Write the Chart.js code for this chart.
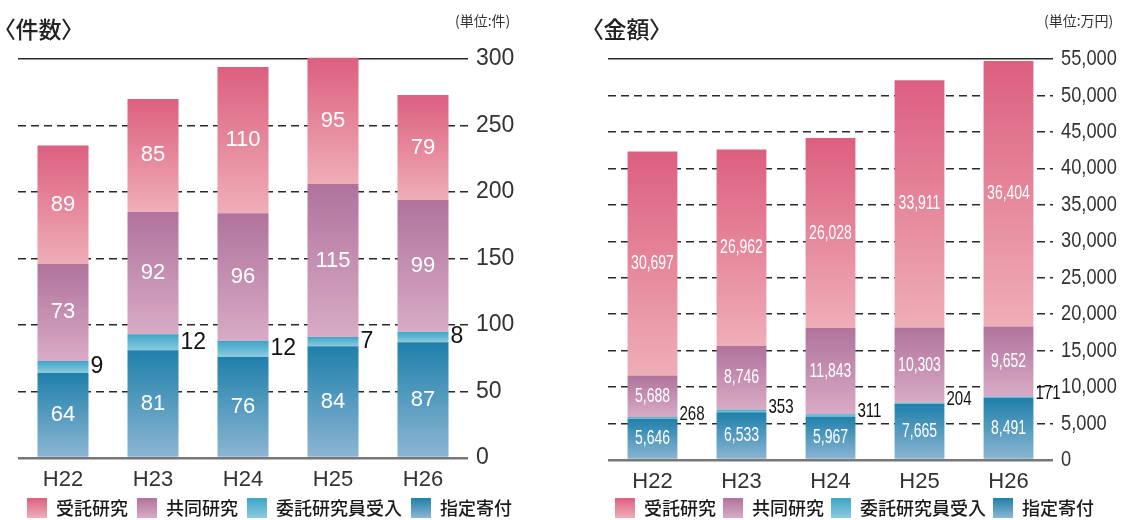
<!DOCTYPE html>
<html lang="ja">
<head>
<meta charset="utf-8">
<title>件数・金額</title>
<style>
  html, body { margin: 0; padding: 0; background: #fff; }
  #wrap { position: relative; width: 1126px; height: 520px; overflow: hidden; }
  .box { position: absolute; top: 0; height: 520px; }
  canvas { display: block; }
  .ttl { position: absolute; font-family: "Noto Sans CJK JP"; font-size: 23px; font-weight: 500; color: #222; font-feature-settings: "palt"; white-space: nowrap; line-height: 1; }
  .unit { position: absolute; font-family: "Noto Sans CJK JP"; font-size: 14px; color: #333; white-space: nowrap; line-height: 1; }
</style>
</head>
<body>
<div id="wrap">
  <div class="box" style="left:0;width:540px"><canvas id="cnt" width="540" height="520"></canvas></div>
  <div class="box" style="left:580px;width:546px"><canvas id="amt" width="546" height="520"></canvas></div>
  <div class="ttl" style="left:4px;top:17px">〈件数〉</div>
  <div class="unit" style="left:455px;top:13px">(単位:件)</div>
  <div class="ttl" style="left:592px;top:17px">〈金額〉</div>
  <div class="unit" style="left:1044px;top:13px">(単位:万円)</div>
</div>

<script src="https://cdn.jsdelivr.net/npm/chart.js"></script>
<script>
  // categories & series (bottom of stack first)
  const years = ['H22', 'H23', 'H24', 'H25', 'H26'];
  const seriesNames = ['指定寄付', '委託研究員受入', '共同研究', '受託研究'];

  // 件数
  const countDonation = [64, 81, 76, 84, 87];
  const countTrainee  = [9, 12, 12, 7, 8];
  const countJoint    = [73, 92, 96, 115, 99];
  const countContract = [89, 85, 110, 95, 79];

  // 金額 (万円)
  const amountDonation = [5646, 6533, 5967, 7665, 8491];
  const amountTrainee  = [268, 353, 311, 204, 171];
  const amountJoint    = [5688, 8746, 11843, 10303, 9652];
  const amountContract = [30697, 26962, 26028, 33911, 36404];

  // top -> bottom colour of each segment
  const palette = [
    ['#1f80ab', '#8db6d3'],
    ['#3ca6c7', '#8ccadf'],
    ['#b0739d', '#d8abc5'],
    ['#dc5f7f', '#efaeb7']
  ];

  function fillFor(i) {
    return function (c) {
      if (c.type !== 'data' || !c.chart.chartArea) return palette[i][0];
      const ds = c.chart.data.datasets;
      let base = 0;
      for (let k = 0; k < i; k++) base += ds[k].data[c.dataIndex];
      const top = base + ds[i].data[c.dataIndex];
      const y = c.chart.scales.y;
      const g = c.chart.ctx.createLinearGradient(0, y.getPixelForValue(top), 0, y.getPixelForValue(base));
      g.addColorStop(0, palette[i][0]);
      g.addColorStop(1, palette[i][1]);
      return g;
    };
  }

  const fmt = v => v.toLocaleString('en-US');

  // text squeezed horizontally (the amounts chart uses a condensed face)
  function drawText(ctx, txt, x, y, font, color, align, sx) {
    ctx.save();
    ctx.font = font;
    ctx.fillStyle = color;
    ctx.textAlign = align;
    ctx.textBaseline = 'middle';
    ctx.translate(x, y);
    ctx.scale(sx, 1);
    ctx.fillText(txt, 0, 0);
    ctx.restore();
  }

  const valueLabels = {
    id: 'valueLabels',
    afterDatasetsDraw(chart, args, opts) {
      const ctx = chart.ctx;
      chart.data.datasets.forEach((ds, i) => {
        chart.getDatasetMeta(i).data.forEach((bar, j) => {
          const txt = fmt(ds.data[j]);
          const cy = (bar.y + bar.base) / 2;
          if (ds.outside) {
            drawText(ctx, txt, bar.x + bar.width / 2 + 2, cy + opts.outShift, opts.outFont, '#111', 'left', opts.outSx);
          } else {
            drawText(ctx, txt, bar.x, cy, opts.inFont, '#fff', 'center', opts.sx);
          }
        });
      });
      if (opts.tickFont) {
        const s = chart.scales.y;
        s.ticks.forEach(t => {
          drawText(ctx, fmt(t.value), s.left + 8, s.getPixelForValue(t.value), opts.tickFont, '#333', 'left', opts.tickSx);
        });
      }
    }
  };

  function makeChart(id, sets, o) {
    const max = o.max;
    return new Chart(document.getElementById(id), {
      type: 'bar',
      data: {
        labels: years,
        datasets: sets.map((d, i) => ({
          label: seriesNames[i],
          data: d,
          backgroundColor: fillFor(i),
          borderWidth: 0,
          outside: i === 1,
          clip: false,
          barPercentage: o.barPct,
          categoryPercentage: 1
        }))
      },
      options: {
        responsive: false,
        animation: false,
        layout: { padding: { left: o.left, top: 59, right: 0, bottom: -8 } },
        scales: {
          x: {
            stacked: true,
            grid: { display: false, drawTicks: false },
            border: { display: false },
            ticks: { font: { family: 'Liberation Sans', size: 22 }, color: '#333', padding: 9 },
            afterFit: s => { s.height = 31; }
          },
          y: {
            stacked: true,
            position: 'right',
            min: 0,
            max: max,
            ticks: { display: o.showTicks, stepSize: o.step, font: { family: 'Liberation Sans', size: 23 }, color: '#333', padding: 8, callback: v => fmt(v) },
            grid: {
              drawTicks: false,
              color: c => c.tick && c.tick.value === 0 ? '#777' : '#2a2a2a',
              lineWidth: c => c.tick && c.tick.value === 0 ? 2.5 : 1.4
            },
            border: {
              display: false,
              dash: c => (c.tick && c.tick.value !== 0 && c.tick.value !== max) ? [8, 5] : []
            },
            afterFit: s => { s.width = o.axisW; }
          }
        },
        plugins: {
          legend: {
            position: 'bottom',
            align: 'start',
            reverse: true,
            labels: {
              boxWidth: 20,
              boxHeight: 20,
              padding: o.legendPad,
              color: '#1a1a1a',
              font: { family: 'Noto Sans CJK JP', size: 18, weight: 500 },
              generateLabels(chart) {
                const items = Chart.defaults.plugins.legend.labels.generateLabels(chart);
                items.forEach(it => {
                  const g = chart.ctx.createLinearGradient(0, 498, 0, 518);
                  g.addColorStop(0, palette[it.datasetIndex][0]);
                  g.addColorStop(1, palette[it.datasetIndex][1]);
                  it.fillStyle = g;
                  it.lineWidth = 0;
                  it.strokeStyle = 'rgba(0,0,0,0)';
                });
                return items;
              }
            }
          },
          tooltip: { enabled: false },
          valueLabels: o.labels
        }
      },
      plugins: [valueLabels]
    });
  }

  makeChart('cnt', [countDonation, countTrainee, countJoint, countContract], {
    max: 300, step: 50, left: 18, axisW: 72, barPct: 0.567, showTicks: true, legendPad: 9,
    labels: { inFont: '22px "Liberation Sans"', outFont: '23px "Liberation Sans"', outShift: 0, sx: 1, outSx: 1 }
  });

  makeChart('amt', [amountDonation, amountTrainee, amountJoint, amountContract], {
    max: 55000, step: 5000, left: 28, axisW: 73, barPct: 0.56, showTicks: false, legendPad: 7,
    labels: { inFont: '20px "Liberation Sans"', outFont: '21px "Liberation Sans"', outShift: -4, sx: 0.7, outSx: 0.72,
              tickFont: '22px "Liberation Sans"', tickSx: 0.83 }
  });
</script>
</body>
</html>
